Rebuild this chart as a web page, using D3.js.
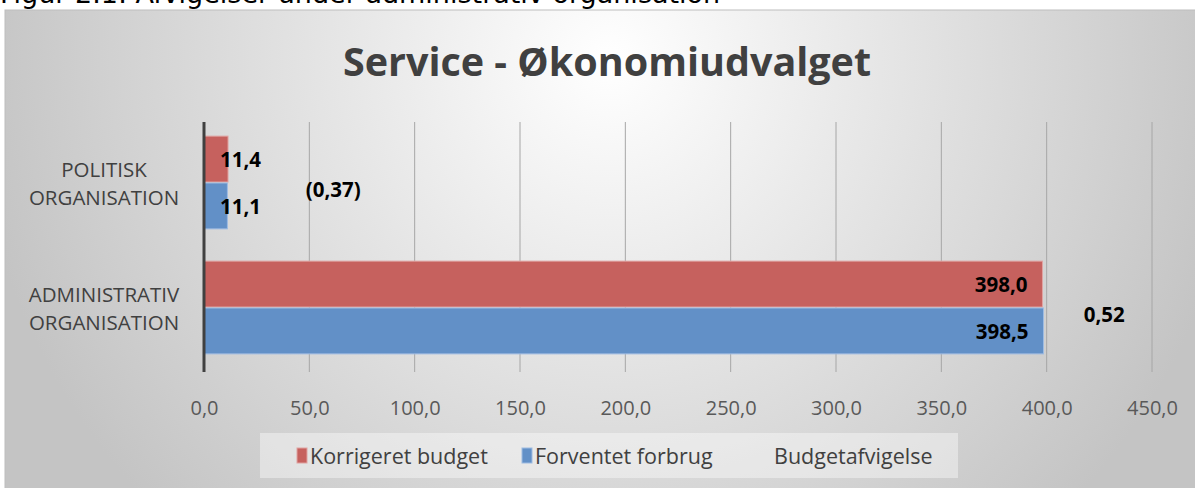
<!DOCTYPE html>
<html>
<head>
<meta charset="utf-8">
<script src="https://cdn.jsdelivr.net/npm/d3@7"></script>
<style>
  body { margin: 0; background: #fff; }
  svg { display: block; }
</style>
</head>
<body>
<svg width="1195" height="488"></svg>
<script>
// data
var categories = ["POLITISK ORGANISATION", "ADMINISTRATIV ORGANISATION"];
var seriesNames = ["Korrigeret budget", "Forventet forbrug", "Budgetafvigelse"];
var korrigeret = [11.4, 398.0];
var forventet = [11.1, 398.5];
var afvigelse = [-0.37, 0.52];
var tickValues = [0, 50, 100, 150, 200, 250, 300, 350, 400, 450];

var red = "#c6615e", blue = "#6290c7", txt = "#404040";
var fmt1 = function(v) { return d3.format(".1f")(v).replace(".", ","); };
var fmt2 = function(v) {
  var s = d3.format(".2f")(Math.abs(v)).replace(".", ",");
  return v < 0 ? "(" + s + ")" : s;
};

var svg = d3.select("svg");

// caption, cut off at the top like in the source
svg.append("text")
  .attr("x", 0).attr("y", 3)
  .style("font-family", "DejaVu Sans")
  .style("font-size", "27px")
  .attr("fill", "#000")
  .text("Figur 2.1: Afvigelser under administrativ organisation");

// chart area background
var defs = svg.append("defs");
var grad = defs.append("radialGradient")
  .attr("id", "bg")
  .attr("gradientUnits", "userSpaceOnUse")
  .attr("cx", 610).attr("cy", 60).attr("r", 640);
grad.append("stop").attr("offset", "0%").attr("stop-color", "#ffffff");
grad.append("stop").attr("offset", "100%").attr("stop-color", "#c4c4c4");

svg.append("rect")
  .attr("x", 5).attr("y", 10).attr("width", 1195).attr("height", 480)
  .attr("fill", "url(#bg)")
  .attr("stroke", "#bdbdbd").attr("stroke-width", 1);

svg.append("text")
  .attr("x", 607).attr("y", 76)
  .attr("text-anchor", "middle")
  .style("font-family", "Open Sans")
  .style("font-weight", "bold")
  .style("font-size", "39.5px")
  .attr("fill", txt)
  .text("Service - Økonomiudvalget");

// scales
var x = d3.scaleLinear().domain([0, 450]).range([204, 1152]);
var x2 = d3.scaleLinear().domain([-0.57, 0.61]).range([204, 1152]);
var y = d3.scaleBand().domain(categories).range([120, 370])
  .paddingInner(0.25).paddingOuter(0.125);
var ySub = d3.scaleBand().domain([0, 1]).range([0, y.bandwidth()]);

// grid
svg.append("g")
  .selectAll("line")
  .data(tickValues.slice(1))
  .enter().append("line")
  .attr("x1", function(d) { return x(d); })
  .attr("x2", function(d) { return x(d); })
  .attr("y1", 122).attr("y2", 372)
  .attr("stroke", "#a6a6a6").attr("stroke-width", 1);

// x tick labels
var xAxis = svg.append("g")
  .attr("transform", "translate(0,372)")
  .call(d3.axisBottom(x).tickValues(tickValues).tickFormat(fmt1).tickSize(0));
xAxis.select(".domain").remove();
xAxis.selectAll("text")
  .attr("y", 43).attr("dy", 0)
  .style("font-family", "Open Sans")
  .style("font-size", "20px")
  .attr("fill", "#595959");

// bars
var rows = categories.map(function(c, i) {
  return { cat: c, vals: [korrigeret[i], forventet[i]], dev: afvigelse[i] };
});
var colors = [red, blue];

var grp = svg.append("g").selectAll("g")
  .data(rows).enter().append("g")
  .attr("transform", function(d) { return "translate(0," + y(d.cat) + ")"; });

grp.selectAll("rect")
  .data(function(d) { return d.vals; })
  .enter().append("rect")
  .attr("x", x(0))
  .attr("y", function(d, i) { return ySub(i) + 0.5; })
  .attr("width", function(d) { return x(d) - x(0); })
  .attr("height", ySub.bandwidth() - 1)
  .attr("fill", function(d, i) { return colors[i]; })
  .attr("stroke", function(d, i) { return i ? "#9dbbe2" : "#e0a3a1"; })
  .attr("stroke-width", 1);

grp.selectAll("text.val")
  .data(function(d) { return d.vals; })
  .enter().append("text")
  .attr("class", "val")
  .attr("x", function(d) { return x(d) - x(0) > 60 ? x(d) - 15 : x(0) + 16; })
  .attr("y", function(d, i) { return ySub(i) + ySub.bandwidth() / 2 + 8; })
  .attr("text-anchor", function(d) { return x(d) - x(0) > 60 ? "end" : "start"; })
  .style("font-family", "Open Sans")
  .style("font-weight", "bold")
  .style("font-size", "20.5px")
  .attr("fill", "#000")
  .text(fmt1);

// deviation labels (invisible series on a secondary axis)
grp.append("text")
  .attr("x", function(d) { return d.dev < 0 ? x2(d.dev) - 4 : x2(d.dev) + 4; })
  .attr("y", y.bandwidth() / 2 + 14)
  .attr("text-anchor", function(d) { return d.dev < 0 ? "end" : "start"; })
  .style("font-family", "Open Sans")
  .style("font-weight", "bold")
  .style("font-size", "20.5px")
  .attr("fill", "#000")
  .text(function(d) { return fmt2(d.dev); });

// category axis line
svg.append("line")
  .attr("x1", x(0)).attr("x2", x(0))
  .attr("y1", 122).attr("y2", 372)
  .attr("stroke", "#404040").attr("stroke-width", 3);

// category labels
grp.append("text")
  .attr("x", 104)
  .attr("text-anchor", "middle")
  .style("font-family", "Open Sans")
  .style("font-size", "20.5px")
  .attr("fill", txt)
  .selectAll("tspan")
  .data(function(d) { return d.cat.split(" "); })
  .enter().append("tspan")
  .attr("x", 104)
  .attr("y", function(d, i) { return y.bandwidth() / 2 - 6 + i * 28; })
  .text(function(d) { return d; });

// legend
var leg = svg.append("g");
leg.append("rect")
  .attr("x", 260).attr("y", 433).attr("width", 698).attr("height", 45)
  .attr("fill", "#ffffff").attr("fill-opacity", 0.4);

var legX = [297, 522, 774];
var legItems = leg.selectAll("g.item")
  .data(seriesNames).enter().append("g")
  .attr("transform", function(d, i) { return "translate(" + legX[i] + ",0)"; });
legItems.filter(function(d, i) { return i < 2; })
  .append("rect")
  .attr("x", 0).attr("y", 448).attr("width", 10).attr("height", 15)
  .attr("fill", function(d, i) { return colors[i]; })
  .attr("stroke", function(d, i) { return i ? "#9dbbe2" : "#e0a3a1"; });
legItems.append("text")
  .attr("x", function(d, i) { return i < 2 ? 13 : 0; })
  .attr("y", 464)
  .style("font-family", "Open Sans")
  .style("font-size", "21.5px")
  .attr("fill", txt)
  .text(function(d) { return d; });
</script>
</body>
</html>
